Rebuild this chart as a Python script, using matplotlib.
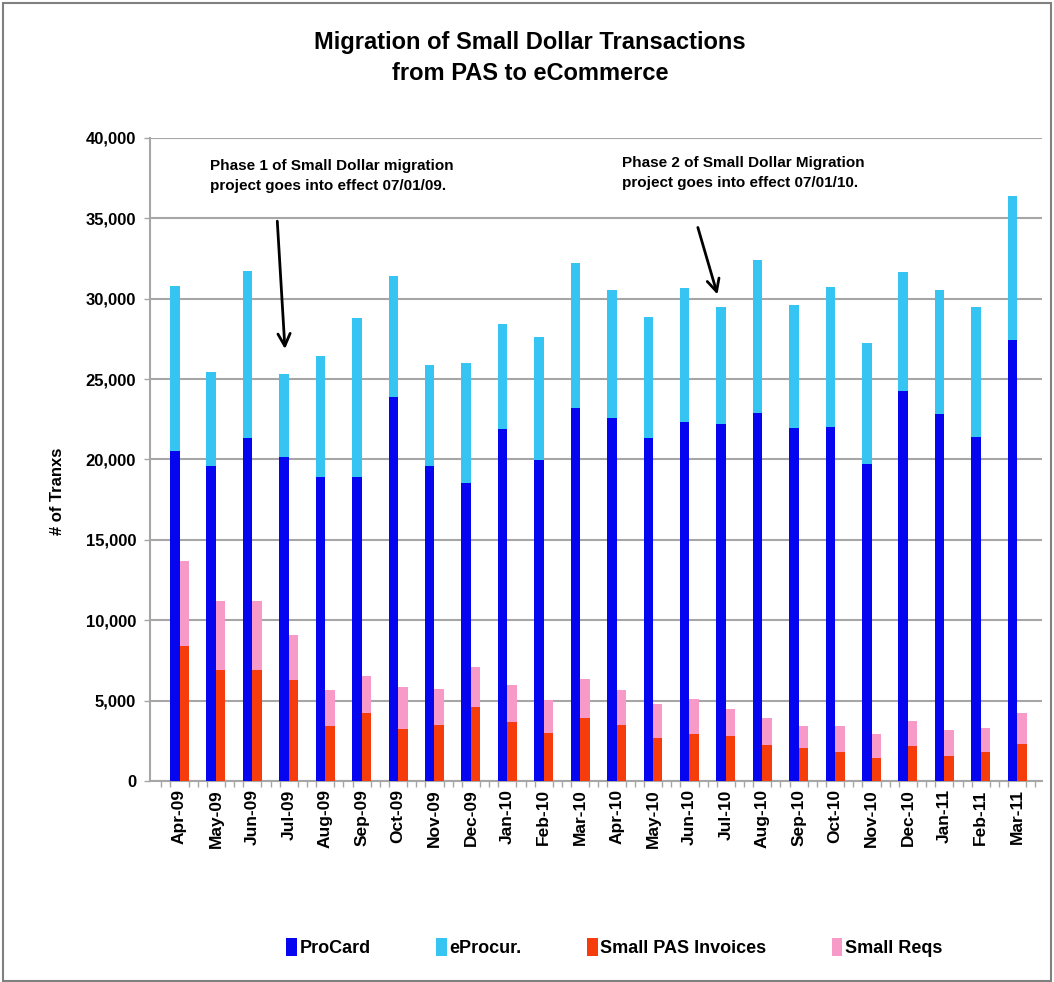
import matplotlib
matplotlib.use('Agg')
from matplotlib import pyplot as plt
from matplotlib.patches import Rectangle
import numpy as np

# data
months = ['Apr-09', 'May-09', 'Jun-09', 'Jul-09', 'Aug-09', 'Sep-09', 'Oct-09', 'Nov-09',
          'Dec-09', 'Jan-10', 'Feb-10', 'Mar-10', 'Apr-10', 'May-10', 'Jun-10', 'Jul-10',
          'Aug-10', 'Sep-10', 'Oct-10', 'Nov-10', 'Dec-10', 'Jan-11', 'Feb-11', 'Mar-11']
procard = [20550, 19610, 21310, 20150, 18920, 18920, 23900, 19610,
           18540, 21910, 19980, 23200, 22610, 21320, 22350, 22180,
           22890, 21980, 22040, 19740, 24250, 22810, 21400, 27420]
eprocur = [10220, 5830, 10440, 5180, 7510, 9900, 7500, 6290,
           7470, 6540, 7610, 9000, 7930, 7540, 8300, 7330,
           9540, 7630, 8710, 7480, 7430, 7760, 8080, 8950]
small_pas = [8420, 6890, 6890, 6280, 3410, 4210, 3240, 3490,
             4630, 3670, 2960, 3920, 3490, 2690, 2900, 2800,
             2220, 2040, 1830, 1420, 2160, 1550, 1800, 2320]
small_reqs = [5260, 4310, 4310, 2800, 2240, 2320, 2620, 2260,
              2480, 2320, 2100, 2430, 2160, 2090, 2230, 1660,
              1700, 1400, 1610, 1520, 1550, 1650, 1520, 1910]

c_procard = '#0505f0'
c_eprocur = '#36c4f2'
c_pas = '#f73c0c'
c_reqs = '#f79ac8'
grid_col = '#a6a6a6'

plt.rcParams['font.family'] = ['Liberation Sans', 'DejaVu Sans']

fig = plt.figure(figsize=(10.54, 9.82), dpi=100)
ax = fig.add_axes([150 / 1054, 1 - 781 / 982, 892 / 1054, 643 / 982])

x = np.arange(len(months))
w = 0.26
ax.bar(x - w / 2, procard, w, color=c_procard, label='ProCard', zorder=3)
ax.bar(x - w / 2, eprocur, w, bottom=procard, color=c_eprocur, label='eProcur.', zorder=3)
ax.bar(x + w / 2, small_pas, w, color=c_pas, label='Small PAS Invoices', zorder=3)
ax.bar(x + w / 2, small_reqs, w, bottom=small_pas, color=c_reqs, label='Small Reqs', zorder=3)

ax.set_xlim(-0.81, 23.68)
ax.set_ylim(0, 40000)
ax.set_yticks(range(0, 40001, 5000))
ax.set_yticklabels([f'{v:,}' for v in range(0, 40001, 5000)], fontsize=12, fontweight='bold')
ax.yaxis.grid(True, color=grid_col, linewidth=1.5, zorder=0)
ax.set_axisbelow(True)

ax.set_xticks(x)
ax.set_xticklabels(months, rotation=90, fontsize=12.5, fontweight='bold')
ax.set_xticks(np.arange(-0.5, 23.6, 0.25), minor=True)
ax.tick_params(axis='x', which='major', length=0, pad=6)
ax.tick_params(axis='x', which='minor', length=4, color=grid_col, width=1)
ax.tick_params(axis='y', length=4, color=grid_col, width=1, pad=6)

for s in ['top', 'right']:
    ax.spines[s].set_visible(False)
ax.spines['left'].set_color(grid_col)
ax.spines['left'].set_linewidth(1.5)
ax.spines['bottom'].set_color(grid_col)
ax.spines['bottom'].set_linewidth(1.5)

ax.set_ylabel('# of Tranxs', fontsize=12, fontweight='bold')
ax.yaxis.set_label_coords(-0.095, 0.45)

fig.text(0.503, 0.968, 'Migration of Small Dollar Transactions\nfrom PAS to eCommerce',
         ha='center', va='top', fontsize=17, fontweight='bold', linespacing=1.4)

ax.text(0.84, 38700, 'Phase 1 of Small Dollar migration\nproject goes into effect 07/01/09.',
        ha='left', va='top', fontsize=11, fontweight='bold', linespacing=1.6)
ax.annotate('', xy=(2.90, 26700), xytext=(2.68, 35000),
            arrowprops=dict(arrowstyle='->', color='black', lw=2, mutation_scale=22))
ax.text(12.15, 38900, 'Phase 2 of Small Dollar Migration\nproject goes into effect 07/01/10.',
        ha='left', va='top', fontsize=11, fontweight='bold', linespacing=1.6)
ax.annotate('', xy=(14.79, 30100), xytext=(14.21, 34600),
            arrowprops=dict(arrowstyle='->', color='black', lw=2, mutation_scale=22))

fig.legend(loc='center', bbox_to_anchor=(0.583, 0.035), ncol=4, frameon=False,
           handlelength=0.6, handleheight=1.2, handletextpad=0.15, columnspacing=3.6,
           prop=dict(size=13, weight='bold'))

fig.patches.append(Rectangle((3 / 1054, 1 / 982), 1048 / 1054, 978 / 982, transform=fig.transFigure,
                             fill=False, edgecolor='#808080', linewidth=1.5))

plt.savefig('out.png', dpi=100)
plt.close(fig)
